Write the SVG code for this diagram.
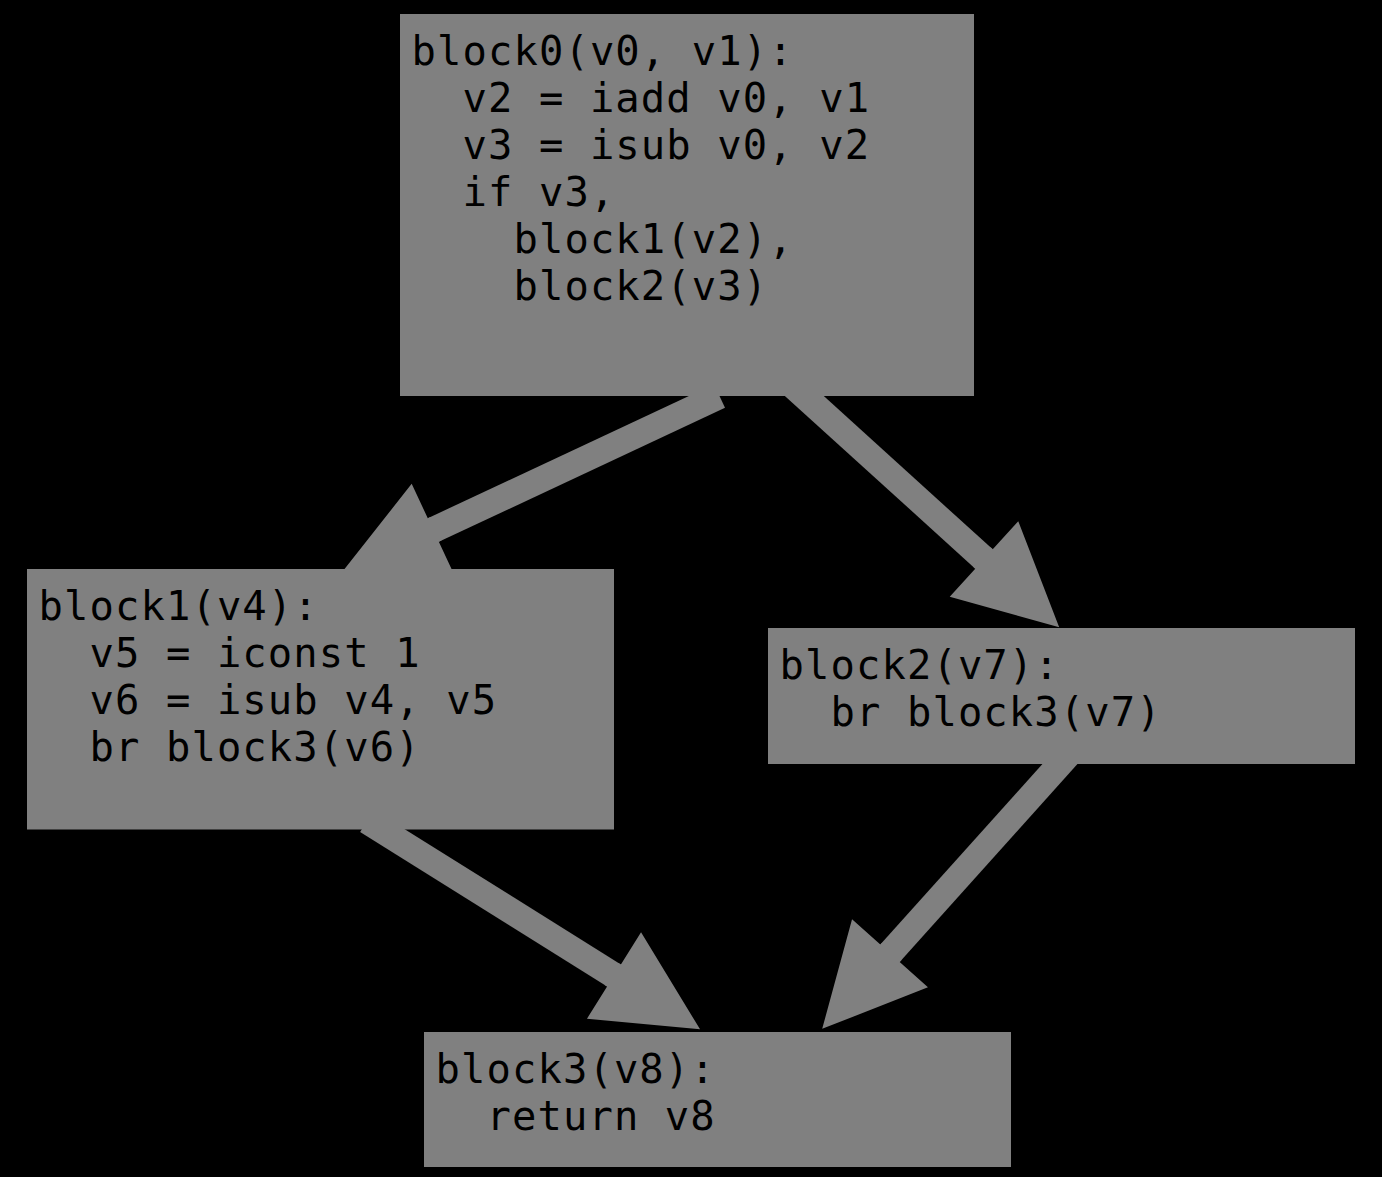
<svg xmlns="http://www.w3.org/2000/svg" width="1382" height="1177" viewBox="0 0 1382 1177">
  <style>
    .block { fill: #808080; }
    .code { font-family: "DejaVu Sans Mono", "Liberation Mono", monospace; font-size: 40.5px; letter-spacing: 1.1px; fill: #000000; white-space: pre; }
    .edge { fill: none; stroke: #808080; stroke-width: 26; stroke-linecap: butt; marker-end: url(#head); }
  </style>
  <defs>
    <!-- wide arrowhead, drawn in user units so every edge gets the same size -->
    <marker id="head" markerUnits="userSpaceOnUse" orient="auto" refX="0" refY="0" markerWidth="220" markerHeight="220" viewBox="-10 -110 220 220" overflow="visible">
      <path d="M0,-51 L101.5,0 L0,51 L0,13 L-3,13 L-3,-13 L0,-13 Z" fill="#808080"/>
    </marker>
  </defs>

  <rect x="0" y="0" width="1382" height="1177" fill="#000000"/>

  <!-- control-flow edges -->
  <g id="edges">
    <line class="edge" x1="719.5" y1="396" x2="433.3" y2="530"/>
    <line class="edge" x1="790" y1="383" x2="984" y2="559"/>
    <line class="edge" x1="367" y1="821" x2="614" y2="975.5"/>
    <line class="edge" x1="1068" y1="755" x2="890" y2="953.3"/>
  </g>

  <g id="block0">
    <rect class="block" x="400" y="14" width="574" height="382"/>
    <text class="code" xml:space="preserve" x="411.5" y="64.7">block0(v0, v1):</text>
    <text class="code" xml:space="preserve" x="411.5" y="111.7">  v2 = iadd v0, v1</text>
    <text class="code" xml:space="preserve" x="411.5" y="158.7">  v3 = isub v0, v2</text>
    <text class="code" xml:space="preserve" x="411.5" y="205.7">  if v3,</text>
    <text class="code" xml:space="preserve" x="411.5" y="252.7">    block1(v2),</text>
    <text class="code" xml:space="preserve" x="411.5" y="299.7">    block2(v3)</text>
  </g>

  <g id="block1">
    <rect class="block" x="27" y="569" width="587" height="260.5"/>
    <text class="code" xml:space="preserve" x="38.5" y="619.5">block1(v4):</text>
    <text class="code" xml:space="preserve" x="38.5" y="666.5">  v5 = iconst 1</text>
    <text class="code" xml:space="preserve" x="38.5" y="713.5">  v6 = isub v4, v5</text>
    <text class="code" xml:space="preserve" x="38.5" y="760.5">  br block3(v6)</text>
  </g>

  <g id="block2">
    <rect class="block" x="768" y="628" width="587" height="136"/>
    <text class="code" xml:space="preserve" x="779.5" y="678.5">block2(v7):</text>
    <text class="code" xml:space="preserve" x="779.5" y="725.5">  br block3(v7)</text>
  </g>

  <g id="block3">
    <rect class="block" x="424" y="1032" width="587" height="135"/>
    <text class="code" xml:space="preserve" x="435.5" y="1082.5">block3(v8):</text>
    <text class="code" xml:space="preserve" x="435.5" y="1129.5">  return v8</text>
  </g>
</svg>
